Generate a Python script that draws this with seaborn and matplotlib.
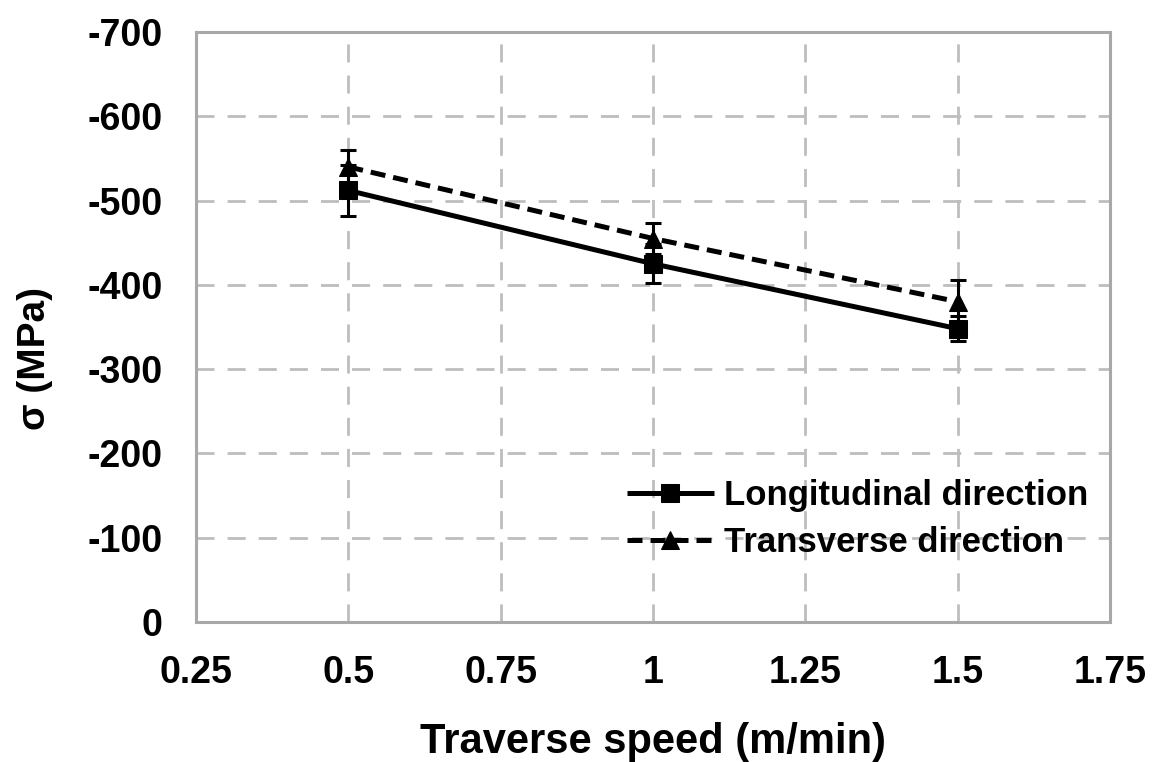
import matplotlib
matplotlib.use("Agg")
import matplotlib.pyplot as plt
import seaborn as sns
import pandas as pd
import numpy as np

speeds = [0.5, 1.0, 1.5]
long_vals = [-512, -425, -348]
long_err = [30, 23, 15]
trans_vals = [-540, -455, -380]
trans_err = [20, 18, 26]
series_names = ["Longitudinal direction", "Transverse direction"]
x_ticks = [0.25, 0.5, 0.75, 1, 1.25, 1.5, 1.75]
x_tick_labels = ["0.25", "0.5", "0.75", "1", "1.25", "1.5", "1.75"]
y_ticks = [0, -100, -200, -300, -400, -500, -600, -700]

sns.set_theme(style="white")
plt.rcParams['font.family'] = ['Liberation Sans', 'DejaVu Sans']
plt.rcParams['text.color'] = 'black'
plt.rcParams['axes.labelcolor'] = 'black'
plt.rcParams['xtick.color'] = 'black'
plt.rcParams['ytick.color'] = 'black'

df = pd.DataFrame({
    "speed": speeds * 2,
    "stress": long_vals + trans_vals,
    "series": [series_names[0]] * 3 + [series_names[1]] * 3,
})

fig = plt.figure(figsize=(11.52, 7.62), dpi=100)
ax = fig.add_axes([196 / 1152, 140 / 762, 914 / 1152, 590 / 762])

sns.lineplot(data=df, x="speed", y="stress", hue="series", style="series",
             palette=["black", "black"], markers=["s", "^"],
             dashes=[(1, 0), (3, 1.6)], markersize=13, linewidth=3.6,
             markeredgecolor="black", ax=ax, legend=True, zorder=3)

ax.errorbar(speeds, long_vals, yerr=long_err, fmt="none", ecolor="black",
            elinewidth=2.2, capsize=5.5, capthick=2.2, zorder=4)
ax.errorbar(speeds, trans_vals, yerr=trans_err, fmt="none", ecolor="black",
            elinewidth=2.2, capsize=5.5, capthick=2.2, zorder=4)

ax.set_xlim(0.25, 1.75)
ax.set_ylim(0, -700)
ax.set_xticks(x_ticks)
ax.set_xticklabels(x_tick_labels)
ax.set_yticks(y_ticks)
ax.set_yticklabels([str(v) for v in y_ticks])
ax.tick_params(axis="both", length=0, labelsize=27, pad=24, colors="black")
for lab in ax.get_xticklabels() + ax.get_yticklabels():
    lab.set_fontweight("bold")

ax.grid(True, color="#bdbdbd", linestyle=(0, (6.5, 4.7)), linewidth=2.0, zorder=0)
ax.set_axisbelow(True)
for sp in ax.spines.values():
    sp.set_color("#a8a8a8")
    sp.set_linewidth(2.2)

ax.set_xlabel("Traverse speed (m/min)", fontsize=30, fontweight="bold", labelpad=22)
ax.set_ylabel("σ (MPa)", fontsize=28, fontweight="bold")
ax.yaxis.set_label_coords(-0.157, 0.447)

leg = ax.legend(loc="lower right", bbox_to_anchor=(1.003, 0.066), frameon=False,
                fontsize=25, handlelength=2.5, handletextpad=0.3, labelspacing=0.4,
                borderaxespad=0.3)
for t in leg.get_texts():
    t.set_fontweight("bold")
    t.set_color("black")

fig.savefig("out.png", dpi=100)
